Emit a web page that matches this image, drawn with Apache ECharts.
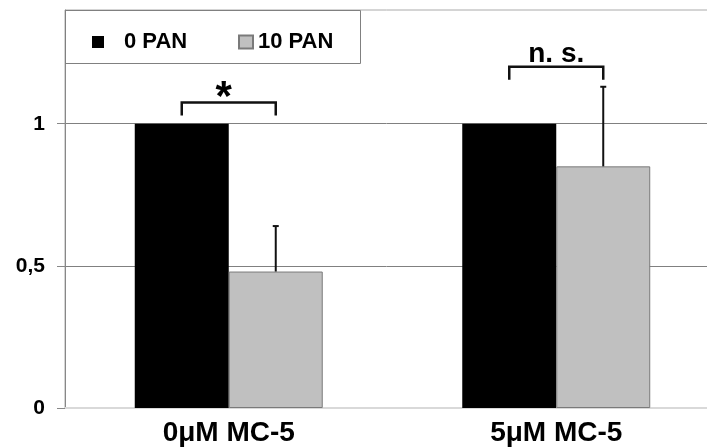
<!DOCTYPE html>
<html><head><meta charset="utf-8">
<script src="https://cdn.jsdelivr.net/npm/echarts@6/dist/echarts.min.js"></script>
<style>html,body{margin:0;padding:0;background:#fff}#c{width:707px;height:448px}</style>
</head><body><div id="c"></div>
<script>
const categories = ['0\u03bcM MC-5', '5\u03bcM MC-5'];
const seriesNames = ['0 PAN', '10 PAN'];
const pan0 = [1, 1];
const pan10 = [0.48, 0.85];
const pan10Err = [0.16, 0.28];
const bracketY = [1.075, 1.2];
const bracketLabels = ['*', 'n. s.'];
const yTickValues = [0, 0.5, 1];
const yTickLabels = ['0', '0,5', '1'];

const FONT = '"Liberation Sans", Arial, sans-serif';
const CAT_GAP = 0.426;

function barCenters(api, idx) {
  const c = api.coord([idx, 0]);
  const band = api.size([1, 0])[0];
  const bw = band * (1 - CAT_GAP) / 2;
  return { x0: c[0] - bw / 2, x1: c[0] + bw / 2 };
}

const chart = echarts.init(document.getElementById('c'));
chart.setOption({
  animation: false,
  grid: { left: 65, width: 655, top: 10, bottom: 40, outerBoundsMode: 'none', containLabel: false,
    show: true, borderColor: '#aaaaaa', borderWidth: 1, backgroundColor: 'transparent' },
  legend: [
    { data: [seriesNames[0]], left: 87, top: 26, icon: 'rect', itemWidth: 12, itemHeight: 12, itemGap: 0,
      textStyle: { fontFamily: FONT, fontWeight: 'bold', fontSize: 22, color: '#000', padding: [0, 0, 0, 15] } },
    { data: [seriesNames[1]], left: 233, top: 26, icon: 'rect', itemWidth: 14, itemHeight: 13, itemGap: 0,
      textStyle: { fontFamily: FONT, fontWeight: 'bold', fontSize: 22, color: '#000', padding: [0, 0, 0, 0] } }
  ],
  graphic: [{ type: 'rect', shape: { x: 65.5, y: 10.5, width: 295, height: 53 }, style: { fill: 'none', stroke: '#808080', lineWidth: 1 }, z: 100 }],
  xAxis: {
    type: 'category', data: categories,
    axisLine: { lineStyle: { color: '#d9d9d9', width: 2 } },
    axisTick: { show: false },
    axisLabel: { fontFamily: FONT, fontWeight: 'bold', fontSize: 28, color: '#000', margin: 11 }
  },
  yAxis: {
    type: 'value', min: 0, max: 1.4, interval: 0.5,
    axisLine: { show: true, lineStyle: { color: '#888888', width: 1 } },
    axisTick: { show: true, length: 8, lineStyle: { color: '#888888' }, customValues: yTickValues },
    axisLabel: { fontFamily: FONT, fontWeight: 'bold', fontSize: 21, color: '#000', margin: 20,
      customValues: yTickValues,
      formatter: v => { const i = yTickValues.indexOf(v); return i >= 0 ? yTickLabels[i] : ''; } },
    splitLine: { show: true, lineStyle: { color: '#808080', width: 1 } }
  },
  series: [
    { name: seriesNames[0], type: 'bar', data: pan0, barGap: '0%', barCategoryGap: (CAT_GAP * 100) + '%',
      itemStyle: { color: '#000000' }, z: 2 },
    { name: seriesNames[1], type: 'bar', data: pan10, barGap: '0%', barCategoryGap: (CAT_GAP * 100) + '%',
      itemStyle: { color: '#c0c0c0', borderColor: '#7a7a7a', borderWidth: 1 }, z: 2 },
    { type: 'custom', name: 'err', silent: true, z: 5,
      data: pan10.map((v, i) => [i, v, v + pan10Err[i]]),
      renderItem: (params, api) => {
        const i = api.value(0);
        const { x1 } = barCenters(api, i);
        const pLo = api.coord([i, api.value(1)]);
        const pHi = api.coord([i, api.value(2)]);
        return { type: 'group', children: [
          { type: 'line', shape: { x1: x1, y1: pLo[1], x2: x1, y2: pHi[1] }, style: { stroke: '#111', lineWidth: 2 } },
          { type: 'line', shape: { x1: x1 - 3, y1: pHi[1], x2: x1 + 3, y2: pHi[1] }, style: { stroke: '#111', lineWidth: 2 } }
        ]};
      } },
    { type: 'custom', name: 'brackets', silent: true, z: 5,
      data: bracketY.map((v, i) => [i, v]),
      renderItem: (params, api) => {
        const i = api.value(0);
        const { x0, x1 } = barCenters(api, i);
        const p = api.coord([i, api.value(1)]);
        const y = p[1];
        const label = bracketLabels[params.dataIndex];
        const isStar = label === '*';
        return { type: 'group', children: [
          { type: 'polyline', shape: { points: [[x0, y + 13], [x0, y], [x1, y], [x1, y + 13]] }, style: { stroke: '#111', lineWidth: 2.5, fill: 'none' } },
          { type: 'text', x: (x0 + x1) / 2 - (isStar ? 5 : 0), y: isStar ? y + 17 : y + 1,
            style: { text: label, fontFamily: FONT, fontWeight: 'bold', fontSize: isStar ? 42 : 28, fill: '#000', align: 'center', verticalAlign: 'bottom' } }
        ]};
      } }
  ]
});
</script></body></html>
